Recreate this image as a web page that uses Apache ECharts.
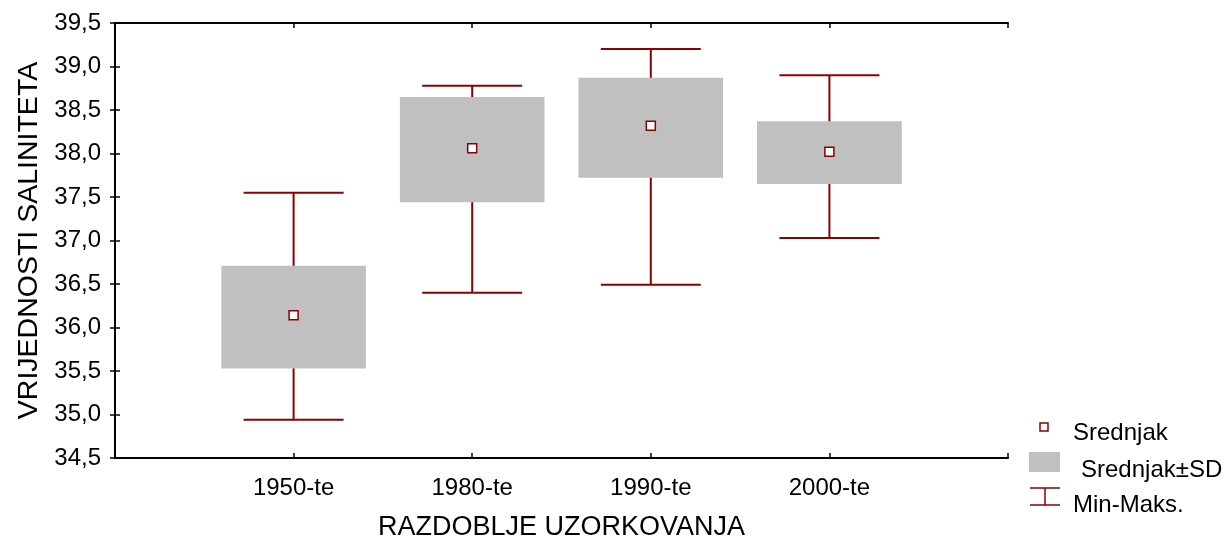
<!DOCTYPE html>
<html>
<head>
<meta charset="utf-8">
<script src="https://cdn.jsdelivr.net/npm/echarts@6/dist/echarts.min.js"></script>
<style>html,body{margin:0;padding:0;background:#fff}#c{width:1227px;height:542px}</style>
</head>
<body>
<div id="c"></div>
<script>
var categories = ['1950-te', '1980-te', '1990-te', '2000-te'];
var meanValues = [36.14, 38.06, 38.32, 38.02];
var sdLow = [35.53, 37.44, 37.72, 37.65];
var sdHigh = [36.71, 38.65, 38.87, 38.37];
var minValues = [34.94, 36.40, 36.49, 37.03];
var maxValues = [37.55, 38.78, 39.20, 38.90];
var yTicks = [34.5, 39.5, 0.5]; // min, max, interval

var RED = '#8b0000';
var GRAY = '#c0c0c0';
var FONT = 'Liberation Sans, Arial, sans-serif';

var boxData = categories.map(function (c, i) { return [i + 1, sdLow[i], sdHigh[i]]; });
var whiskerData = categories.map(function (c, i) { return [i + 1, minValues[i], maxValues[i]]; });
var meanData = categories.map(function (c, i) { return [i + 1, meanValues[i]]; });

var chart = echarts.init(document.getElementById('c'), null, { renderer: 'canvas' });

function fmtY(v) { return v.toFixed(1).replace('.', ','); }

var axisLine = { show: true, lineStyle: { color: '#000', width: 2 } };
var axisTick = { show: true, inside: true, length: 5, lineStyle: { color: '#000', width: 1.5 } };

chart.setOption({
  animation: false,
  backgroundColor: '#fff',
  grid: { left: 115, right: 219, top: 23, bottom: 84, containLabel: false, outerBoundsMode: 'none' },
  xAxis: [{
    type: 'value', min: 0, max: categories.length + 1, interval: 1, position: 'bottom',
    axisLine: axisLine, axisTick: axisTick, splitLine: { show: false },
    axisLabel: {
      margin: 18, fontSize: 24, color: '#000', fontFamily: FONT,
      formatter: function (v) { return categories[v - 1] || ''; }
    },
    name: 'RAZDOBLJE UZORKOVANJA', nameLocation: 'middle', nameGap: 56,
    nameTextStyle: { fontSize: 27, color: '#000', fontFamily: FONT }
  }, {
    type: 'value', min: 0, max: categories.length + 1, interval: 1, position: 'top',
    axisLine: axisLine, axisTick: axisTick, axisLabel: { show: false }, splitLine: { show: false }
  }],
  yAxis: [{
    type: 'value', min: yTicks[0], max: yTicks[1], interval: yTicks[2], position: 'left',
    axisLine: axisLine, axisTick: axisTick, splitLine: { show: false },
    axisLabel: { margin: 14, fontSize: 24, color: '#000', fontFamily: FONT, formatter: fmtY },
    name: 'VRIJEDNOSTI SALINITETA', nameLocation: 'middle', nameGap: 70, nameRotate: 90,
    nameTextStyle: { fontSize: 28.5, color: '#000', fontFamily: FONT }
  }, {
    type: 'value', min: yTicks[0], max: yTicks[1], interval: yTicks[2], position: 'right',
    axisLine: axisLine, axisTick: axisTick, axisLabel: { show: false }, splitLine: { show: false }
  }],
  series: [{
    name: 'Min-Maks.', type: 'custom', data: whiskerData, z: 1,
    renderItem: function (params, api) {
      var x = api.value(0);
      var top = api.coord([x, api.value(2)]);
      var bot = api.coord([x, api.value(1)]);
      var half = api.size([0.56, 0])[0] / 2;
      var st = { stroke: RED, lineWidth: 2 };
      return { type: 'group', children: [
        { type: 'line', shape: { x1: top[0], y1: top[1], x2: bot[0], y2: bot[1] }, style: st },
        { type: 'line', shape: { x1: top[0] - half, y1: top[1], x2: top[0] + half, y2: top[1] }, style: st },
        { type: 'line', shape: { x1: bot[0] - half, y1: bot[1], x2: bot[0] + half, y2: bot[1] }, style: st }
      ]};
    }
  }, {
    name: 'Srednjak±SD', type: 'custom', data: boxData, z: 2,
    renderItem: function (params, api) {
      var x = api.value(0);
      var top = api.coord([x, api.value(2)]);
      var bot = api.coord([x, api.value(1)]);
      var half = api.size([0.81, 0])[0] / 2;
      return { type: 'rect', shape: { x: top[0] - half, y: top[1], width: half * 2, height: bot[1] - top[1] },
        style: { fill: GRAY } };
    }
  }, {
    name: 'Srednjak', type: 'scatter', data: meanData, z: 3,
    symbol: 'rect', symbolSize: 9,
    itemStyle: { color: '#fff', borderColor: RED, borderWidth: 1.5, opacity: 1 }
  }],
  graphic: [
    { type: 'rect', shape: { x: 1040, y: 423, width: 8, height: 8 }, style: { fill: '#fff', stroke: RED, lineWidth: 1.5 } },
    { type: 'text', style: { x: 1073, y: 433, text: 'Srednjak', fontSize: 24, fill: '#000', fontFamily: FONT, verticalAlign: 'middle' } },
    { type: 'rect', shape: { x: 1029, y: 452, width: 31, height: 20 }, style: { fill: GRAY } },
    { type: 'text', style: { x: 1081, y: 470, text: 'Srednjak±SD', fontSize: 24, fill: '#000', fontFamily: FONT, verticalAlign: 'middle' } },
    { type: 'line', shape: { x1: 1030, y1: 488, x2: 1060, y2: 488 }, style: { stroke: RED, lineWidth: 1.5 } },
    { type: 'line', shape: { x1: 1045, y1: 488, x2: 1045, y2: 505 }, style: { stroke: RED, lineWidth: 1.5 } },
    { type: 'line', shape: { x1: 1030, y1: 505, x2: 1060, y2: 505 }, style: { stroke: RED, lineWidth: 1.5 } },
    { type: 'text', style: { x: 1073, y: 505, text: 'Min-Maks.', fontSize: 24, fill: '#000', fontFamily: FONT, verticalAlign: 'middle' } }
  ]
});
</script>
</body>
</html>
